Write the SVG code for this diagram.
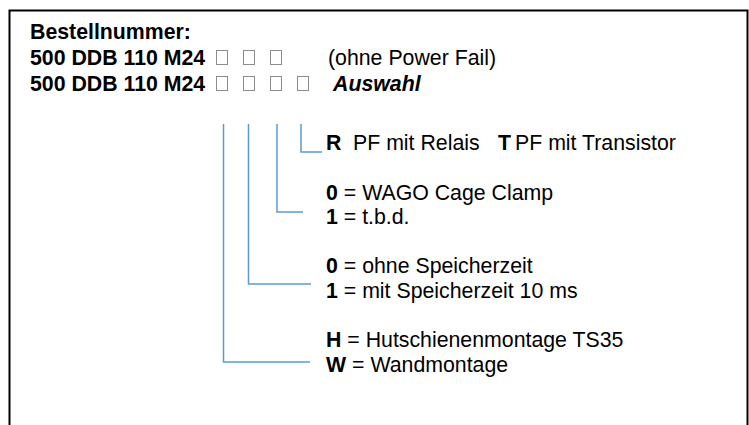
<svg xmlns="http://www.w3.org/2000/svg" width="749" height="425" viewBox="0 0 749 425">
<style>
text{font-family:"Liberation Sans",Arial,sans-serif;font-size:21.3px;fill:#000}
.b{font-weight:bold}
.bi{font-weight:bold;font-style:italic}
.box{fill:#fff;stroke:#8c8c8c;stroke-width:1}
.conn{fill:none;stroke:#5b9bd5;stroke-width:1.5}
</style>
<rect x="0" y="0" width="749" height="425" fill="#fff"/>
<rect id="frame" x="9.5" y="10.5" width="738" height="430" fill="none" stroke="#000" stroke-width="2"/>
<g id="header">
<text class="b" x="30" y="39">Bestellnummer:</text>
<text class="b" x="30" y="65">500 DDB 110 M24</text>
<rect class="box" x="216.5" y="50.5" width="11" height="14"/>
<rect class="box" x="243.5" y="50.5" width="11" height="14"/>
<rect class="box" x="270.5" y="50.5" width="11" height="14"/>
<text x="328" y="65">(ohne Power Fail)</text>
<text class="b" x="30" y="91">500 DDB 110 M24</text>
<rect class="box" x="216.5" y="76.5" width="11" height="14"/>
<rect class="box" x="243.5" y="76.5" width="11" height="14"/>
<rect class="box" x="270.5" y="76.5" width="11" height="14"/>
<rect class="box" x="297.5" y="76.5" width="11" height="14"/>
<text class="bi" x="333" y="91">Auswahl</text>
</g>
<g id="connectors">
<path class="conn" d="M301 124 V152 H322"/>
<path class="conn" d="M277 124 V212 H303"/>
<path class="conn" d="M248.5 124 V284 H311"/>
<path class="conn" d="M223.5 124 V362 H310"/>
</g>
<g id="opt4">
<text y="150"><tspan class="b" x="326">R</tspan><tspan x="353">PF mit Relais</tspan><tspan class="b" x="498">T</tspan><tspan x="515">PF mit Transistor</tspan></text>
</g>
<g id="opt3">
<text x="326" y="200"><tspan class="b">0</tspan> = WAGO Cage Clamp</text>
<text x="326" y="224"><tspan class="b">1</tspan> = t.b.d.</text>
</g>
<g id="opt2">
<text x="326" y="273"><tspan class="b">0</tspan> = ohne Speicherzeit</text>
<text x="326" y="298"><tspan class="b">1</tspan> = mit Speicherzeit 10 ms</text>
</g>
<g id="opt1">
<text x="326" y="347"><tspan class="b">H</tspan> = Hutschienenmontage TS35</text>
<text x="326" y="372"><tspan class="b">W</tspan> = Wandmontage</text>
</g>
</svg>
